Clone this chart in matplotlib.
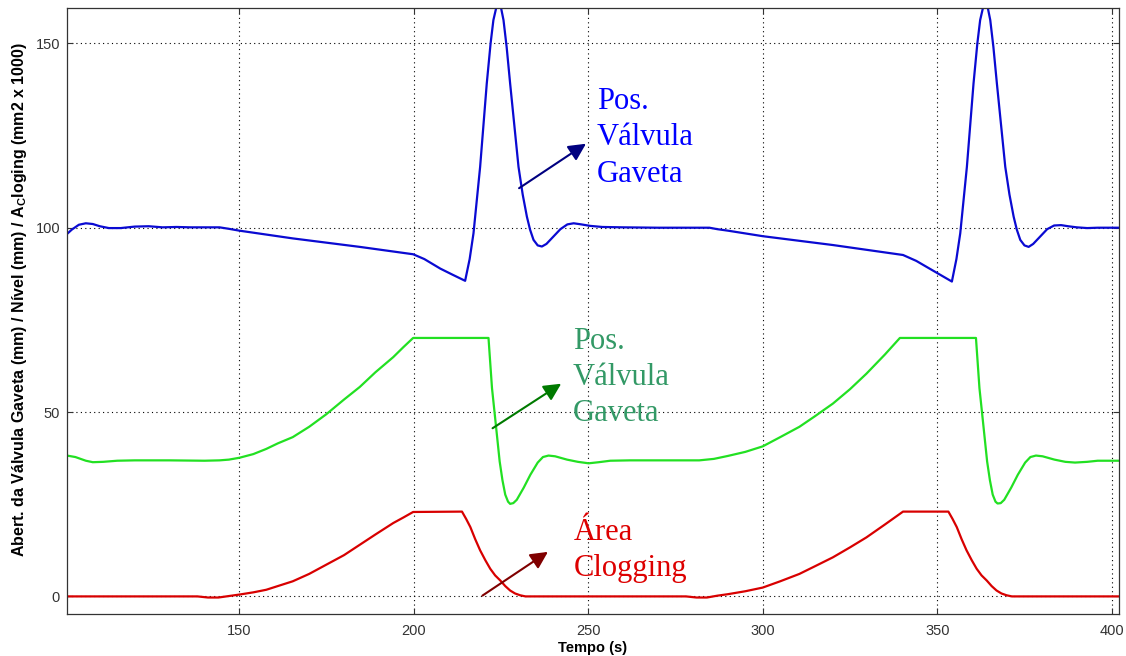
import matplotlib
matplotlib.use("Agg")
import matplotlib.pyplot as plt

# nível do molde (azul)
t_nivel = [100.6, 102, 104, 106, 108, 110, 112.6, 116, 120, 124, 128, 132, 136, 140, 144.3, 147, 150,
           165.3, 184.5, 199.8, 203, 207.6, 211, 214.7, 216.0, 217.1, 219.0, 220.9, 222.0, 222.8, 223.6,
           224.3, 225.0, 225.7, 226.6, 227.6, 230.0, 231.2, 232.4, 233.3, 234.3, 235.5, 236.7, 238.0,
           240.0, 242.0, 244.0, 245.8, 248.0, 250.5, 254, 260, 270, 280, 284.7, 287, 290, 300, 320.1,
           340.2, 344, 348, 354.2, 355.5, 356.6, 358.5, 360.4, 361.5, 362.3, 363.1, 363.8, 364.5, 365.2,
           366.1, 367.1, 369.5, 370.7, 371.9, 372.8, 373.8, 375.0, 376.2, 377.5, 379.5, 381.5, 383.5,
           385.5, 387.5, 390, 393, 396, 400, 402.1]
nivel = [98.3, 99.5, 100.8, 101.2, 101.0, 100.4, 99.9, 99.9, 100.3, 100.4, 100.1, 100.2, 100.1, 100.1, 100.1, 99.7, 99.2,
         97.1, 94.8, 92.8, 91.5, 88.9, 87.3, 85.6, 91.5, 98.5, 116.5, 139.1, 150.0, 156.3, 159.6,
         160.5, 159.6, 156.3, 149.0, 139.1, 116.5, 109.0, 103.0, 99.5, 96.7, 95.2, 94.9, 95.6,
         97.6, 99.6, 100.9, 101.2, 100.9, 100.5, 100.2, 100.1, 100.0, 100.0, 100.0, 99.6, 99.2, 97.7, 95.3,
         92.6, 91.0, 88.8, 85.4, 91.5, 98.5, 116.5, 139.1, 150.0, 156.3, 159.6, 160.5, 159.6, 156.3,
         149.0, 139.1, 116.5, 109.0, 103.0, 99.5, 96.7, 95.2, 94.8, 95.6, 97.6, 99.6, 100.6,
         100.7, 100.4, 100.1, 99.9, 100.0, 100.0, 100.0]

# posição da válvula gaveta (verde)
t_valvula = [100.6, 103, 106, 108, 111, 115, 120, 130, 140, 144.3, 147, 150, 154, 157.7, 161, 165.3, 170,
             174.9, 180, 184.5, 189, 194.1, 197, 199.8, 221.4, 222.4, 223.4, 224.6, 225.4, 226.2, 227.0,
             227.6, 228.5, 229.5, 231.5, 233.4, 235.5, 237.0, 238.6, 240.5, 243.9, 247, 250.1, 253, 256.3,
             262, 270, 281.8, 286, 290, 295, 300, 305, 310.5, 315, 320.1, 325, 329.7, 335, 339.3, 361.1,
             362.1, 363.1, 364.3, 365.1, 365.9, 366.7, 367.3, 368.2, 369.2, 371.2, 373.1, 375.2, 376.7,
             378.3, 380.2, 383.6, 386.7, 389.5, 393, 396, 400, 402.1]
valvula = [38.2, 37.8, 36.8, 36.4, 36.5, 36.8, 36.9, 36.9, 36.8, 36.9, 37.1, 37.6, 38.6, 40.0, 41.5, 43.2, 46.0,
           49.4, 53.4, 56.8, 60.8, 64.9, 67.6, 70.1, 70.1, 56.5, 47.5, 36.6, 31.5, 27.6, 25.7,
           25.1, 25.3, 26.2, 29.5, 33.0, 36.3, 37.8, 38.2, 38.0, 37.1, 36.5, 36.1, 36.4, 36.8,
           36.9, 36.9, 36.9, 37.3, 38.1, 39.2, 40.7, 43.2, 46.0, 48.9, 52.3, 56.2, 60.4, 65.6, 70.1, 70.1,
           56.5, 47.5, 36.6, 31.5, 27.6, 25.7, 25.2, 25.3, 26.2, 29.5, 33.0, 36.3, 37.8,
           38.2, 38.0, 37.1, 36.5, 36.3, 36.5, 36.8, 36.8, 36.8]

# área de clogging (vermelho)
t_clog = [100.6, 138, 141, 144, 147, 150, 154, 157.7, 161, 165.3, 170, 174.9, 180, 184.5, 189, 194.1, 197,
          199.8, 213.8, 215, 216.2, 217.6, 219, 220.5, 221.9, 223.3, 224.8, 226.2, 227.6, 229, 230.5, 232,
          278, 281, 284, 287, 290, 295, 300, 305, 310.5, 315, 320.1, 325, 329.7, 335, 340.2, 353.2,
          354.4, 355.6, 357.0, 358.4, 359.9, 361.3, 362.7, 364.2, 365.6, 367.0, 368.4, 369.9, 371.4, 402.1]
clog = [0, 0, -0.3, -0.3, 0.1, 0.5, 1.1, 1.8, 2.8, 4.1, 6.1, 8.6, 11.2, 14.0, 16.8, 19.9, 21.4,
        22.9, 23.0, 21.0, 18.8, 15.5, 12.5, 9.8, 7.5, 5.7, 4.3, 2.8, 1.6, 0.8, 0.3, 0.0,
        0, -0.3, -0.3, 0.2, 0.6, 1.4, 2.4, 4.1, 6.1, 8.2, 10.6, 13.3, 16.0, 19.5, 23.0, 23.0,
        21.0, 18.8, 15.5, 12.5, 9.8, 7.5, 5.7, 4.3, 2.8, 1.6, 0.8, 0.3, 0, 0]

xticks = [150, 200, 250, 300, 350, 400]
yticks = [0, 50, 100, 150]

fig = plt.figure(figsize=(11.26, 6.56), dpi=100)
ax = fig.add_axes([0.0595, 0.0633, 0.9343, 0.924])

ax.plot(t_nivel, nivel, color="#0a0ad2", lw=1.6)
ax.plot(t_valvula, valvula, color="#22e022", lw=1.6)
ax.plot(t_clog, clog, color="#d80000", lw=1.6)

ax.set_xlim(100.6, 402.1)
ax.set_ylim(-4.9, 159.5)
ax.set_xticks(xticks)
ax.set_yticks(yticks)
ax.grid(True, linestyle=(0, (1, 3)), color="k", linewidth=0.8)
ax.tick_params(direction="in", length=4, top=True, right=True, labelsize=10.5,
               labelcolor="#333333", color="#333333")
ax.tick_params(axis="x", pad=7)
ax.tick_params(axis="y", pad=5)
for lab in ax.get_xticklabels() + ax.get_yticklabels():
    lab.set_family("Liberation Sans")
for s in ax.spines.values():
    s.set_color("#333333")
    s.set_linewidth(0.9)

ax.set_xlabel("Tempo (s)", fontsize=10.5, fontweight="bold", family="Liberation Sans", labelpad=2)
ax.set_ylabel("Abert. da Válvula Gaveta (mm) / Nível (mm) / A$_\\mathregular{C}$loging (mm2 x 1000)",
              fontsize=11.5, fontweight="bold", family="Liberation Sans")
ax.yaxis.set_label_coords(-0.036, 0.52)

serif = "Liberation Serif"
ax.annotate("", xy=(250.0, 123.2), xytext=(229.5, 110.3),
            arrowprops=dict(arrowstyle="-|>", color="#000080", lw=1.5, mutation_scale=26))
ax.text(252.5, 112.5, "Pos.\nVálvula\nGaveta", color="#0000ff", fontsize=22, family=serif,
        va="baseline", ha="left", linespacing=1.33)

ax.annotate("", xy=(242.9, 58.1), xytext=(221.9, 45.2),
            arrowprops=dict(arrowstyle="-|>", color="#007a00", lw=1.5, mutation_scale=26))
ax.text(245.6, 47.5, "Pos.\nVálvula\nGaveta", color="#339966", fontsize=22, family=serif,
        va="baseline", ha="left", linespacing=1.33)

ax.annotate("", xy=(239.1, 12.5), xytext=(219.0, -0.2),
            arrowprops=dict(arrowstyle="-|>", color="#800000", lw=1.5, mutation_scale=26))
ax.text(245.8, 5.4, "Área\nClogging", color="#dd0000", fontsize=22, family=serif,
        va="baseline", ha="left", linespacing=1.33)

fig.savefig("out.png", dpi=100)
